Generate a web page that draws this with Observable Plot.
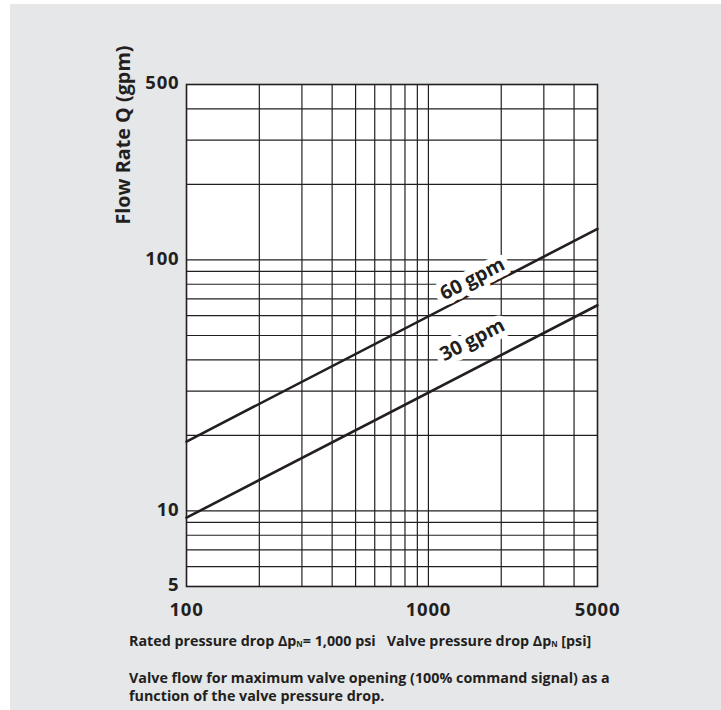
<!DOCTYPE html>
<html>
<head>
<meta charset="utf-8">
<script src="https://cdn.jsdelivr.net/npm/d3@7"></script>
<script src="https://cdn.jsdelivr.net/npm/@observablehq/plot@0.6"></script>
<style>
  html, body { margin: 0; padding: 0; background: #ffffff; }
  #page { position: relative; width: 721px; height: 710px; overflow: hidden; font-family: "Open Sans", Lato, sans-serif; }
  #bg { position: absolute; left: 10px; top: 4px; right: 0; bottom: 0; background: #e6e7e9; }
  #chart { position: absolute; left: 0; top: 0; }
  #ylabel { position: absolute; left: 122px; top: 135px; transform: translate(-50%, -50%) rotate(-90deg); white-space: nowrap; font-weight: 700; font-size: 19.8px; color: #231f20; }
  .cap { position: absolute; left: 129px; font-weight: 700; font-size: 14.3px; color: #231f20; white-space: nowrap; }
  .cap sub { font-size: 0.55em; vertical-align: -0.1em; }
  #chart g[aria-label$="tick label"] text { letter-spacing: 0.8px; }
</style>
</head>
<body>
<div id="page">
  <div id="bg"></div>
  <div id="chart"></div>
  <div id="ylabel">Flow Rate Q (gpm)</div>
  <div class="cap" id="cap1" style="top:631px">Rated pressure drop &Delta;p<sub>N</sub>= 1,000 psi&nbsp;&nbsp; Valve pressure drop &Delta;p<sub>N</sub> [psi]</div>
  <div class="cap" id="cap2" style="top:668px">Valve flow for maximum valve opening (100% command signal) as a</div>
  <div class="cap" id="cap3" style="top:686px">function of the valve pressure drop.</div>
</div>
<script>
// Data
const pressure = [100, 5000];          // valve pressure drop, psi
const flow60 = [18.9, 133];            // 60 gpm rated valve
const flow30 = [9.4, 66];              // 30 gpm rated valve
const seriesNames = ["60 gpm", "30 gpm"];
const labelX = [1520, 1520];
const labelY = [84, 48];
const xTicks = [100, 1000, 5000];
const yTicks = [5, 10, 100, 500];
const xGrid = [200, 300, 400, 500, 600, 700, 800, 900, 1000, 2000, 3000, 4000];
const yGrid = [6, 7, 8, 9, 10, 20, 30, 40, 50, 60, 70, 80, 90, 100, 200, 300, 400];

const lines = [];
pressure.forEach((p, i) => lines.push({series: seriesNames[0], p, q: flow60[i]}));
pressure.forEach((p, i) => lines.push({series: seriesNames[1], p, q: flow30[i]}));
const labels = seriesNames.map((s, i) => ({text: s, p: labelX[i], q: labelY[i]}));

const ink = "#231f20";
const font = "'Open Sans', Lato, sans-serif";
const chart = Plot.plot({
  width: 721,
  height: 640,
  marginLeft: 186,
  marginRight: 124,
  marginTop: 84,
  marginBottom: 54,
  style: {background: "transparent", fontFamily: font},
  x: {type: "log", domain: [100, 5000]},
  y: {type: "log", domain: [5, 500]},
  marks: [
    Plot.frame({fill: "white", stroke: null}),
    Plot.ruleX(xGrid, {stroke: ink, strokeWidth: 1.2}),
    Plot.ruleY(yGrid, {stroke: ink, strokeWidth: 1.2}),
    Plot.frame({stroke: ink, strokeWidth: 1.6}),
    Plot.line(lines, {x: "p", y: "q", z: "series", stroke: ink, strokeWidth: 2.6}),
    Plot.text(labels, {x: "p", y: "q", text: "text", rotate: -27.3, fontSize: 19.5, fontWeight: "bold", fill: ink, stroke: "white", strokeWidth: 12}),
    Plot.axisX({ticks: xTicks, tickFormat: d => String(d), tickSize: 0, tickPadding: 16, fontSize: 18.5, fontWeight: "bold", fill: ink, label: null}),
    Plot.axisY({ticks: yTicks, tickFormat: d => String(d), tickSize: 0, tickPadding: 7, dy: -1, fontSize: 18.5, fontWeight: "bold", fill: ink, label: null})
  ]
});
document.getElementById("chart").appendChild(chart);
</script>
</body>
</html>
